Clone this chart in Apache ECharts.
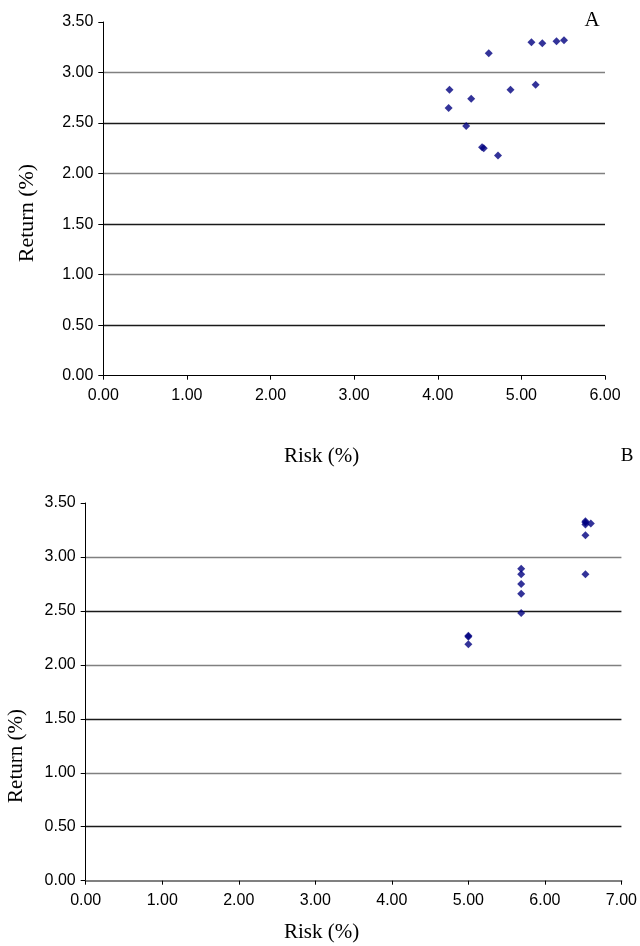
<!DOCTYPE html>
<html>
<head>
<meta charset="utf-8">
<script src="https://cdn.jsdelivr.net/npm/echarts@6/dist/echarts.min.js"></script>
<style>
html,body{margin:0;padding:0;background:#fff;}
#chart{width:640px;height:946px;}
</style>
</head>
<body>
<div id="chart"></div>
<script>
// Panel A
const riskA   = [4.61, 5.12, 5.25, 5.42, 5.51, 4.14, 4.40, 4.13, 4.87, 5.17, 4.34, 4.53, 4.55, 4.72];
const returnA = [3.19, 3.30, 3.29, 3.31, 3.32, 2.83, 2.74, 2.65, 2.83, 2.88, 2.47, 2.26, 2.25, 2.18];
// Panel B
const riskB   = [6.53, 6.53, 6.53, 6.60, 6.53, 6.53, 5.69, 5.69, 5.69, 5.69, 5.69, 5.00, 5.00, 5.00];
const returnB = [3.33, 3.32, 3.30, 3.31, 3.20, 2.84, 2.89, 2.84, 2.75, 2.66, 2.48, 2.27, 2.26, 2.19];
const xMaxA = 6, xMaxB = 7, yMax = 3.5;
const panelLabels = ['A', 'B'];
const xTitle = 'Risk (%)', yTitle = 'Return (%)';

const pairs = (xs, ys) => xs.map((x, i) => [x, ys[i]]);
const fmt = v => v.toFixed(2);
const sans = '"Liberation Sans", Arial, sans-serif';
const serif = '"Liberation Serif", "Times New Roman", serif';

function xAxis(gi, max, lineColor, lineW) {
  return {
    type: 'value', gridIndex: gi, min: 0, max: max, interval: 1,
    axisLine: {show: true, onZero: false, lineStyle: {color: lineColor, width: lineW}},
    axisTick: {show: true, inside: false, length: 4, lineStyle: {color: '#000'}},
    splitLine: {show: false},
    axisLabel: {formatter: fmt, fontFamily: sans, fontSize: 16, color: '#000', margin: 12}
  };
}
function yAxis(gi) {
  return {
    type: 'value', gridIndex: gi, min: 0, max: yMax, interval: 0.5,
    axisLine: {show: true, onZero: false, lineStyle: {color: '#000', width: 1}},
    axisTick: {show: true, inside: false, length: 5, lineStyle: {color: '#000'}},
    splitLine: {show: true, showMinLine: false, showMaxLine: false,
      lineStyle: {color: ['#1a1a1a', '#808080'], width: 1.4}},
    axisLabel: {formatter: fmt, fontFamily: sans, fontSize: 16, color: '#000', margin: 10}
  };
}

const chart = echarts.init(document.getElementById('chart'), null, {renderer: 'canvas'});
chart.setOption({
  animation: false,
  backgroundColor: '#fff',
  grid: [
    {left: 103.3, right: 35, top: 22, height: 353.7},
    {left: 85.7, right: 15, top: 503, height: 377.7}
  ],
  xAxis: [xAxis(0, xMaxA, '#000', 1), xAxis(1, xMaxB, '#808080', 2)],
  yAxis: [yAxis(0), yAxis(1)],
  series: [
    {type: 'scatter', xAxisIndex: 0, yAxisIndex: 0, data: pairs(riskA, returnA),
     symbol: 'diamond', symbolSize: 8, itemStyle: {color: '#000080'}},
    {type: 'scatter', xAxisIndex: 1, yAxisIndex: 1, data: pairs(riskB, returnB),
     symbol: 'diamond', symbolSize: 8, itemStyle: {color: '#000080'}}
  ],
  graphic: [
    {type: 'text', left: 284, top: 446, style: {text: xTitle, font: '21px ' + serif, fill: '#000'}},
    {type: 'text', left: 284, top: 922, style: {text: xTitle, font: '21px ' + serif, fill: '#000'}},
    {type: 'text', x: 27, y: 213, rotation: Math.PI / 2,
     style: {text: yTitle, font: '22px ' + serif, fill: '#000', align: 'center', verticalAlign: 'middle'}},
    {type: 'text', x: 16, y: 756, rotation: Math.PI / 2,
     style: {text: yTitle, font: '21px ' + serif, fill: '#000', align: 'center', verticalAlign: 'middle'}},
    {type: 'text', x: 592, y: 20, style: {text: panelLabels[0], font: '21px ' + serif, fill: '#000', align: 'center', verticalAlign: 'middle'}},
    {type: 'text', x: 627, y: 456, style: {text: panelLabels[1], font: '19px ' + serif, fill: '#000', align: 'center', verticalAlign: 'middle'}}
  ]
});
</script>
</body>
</html>
